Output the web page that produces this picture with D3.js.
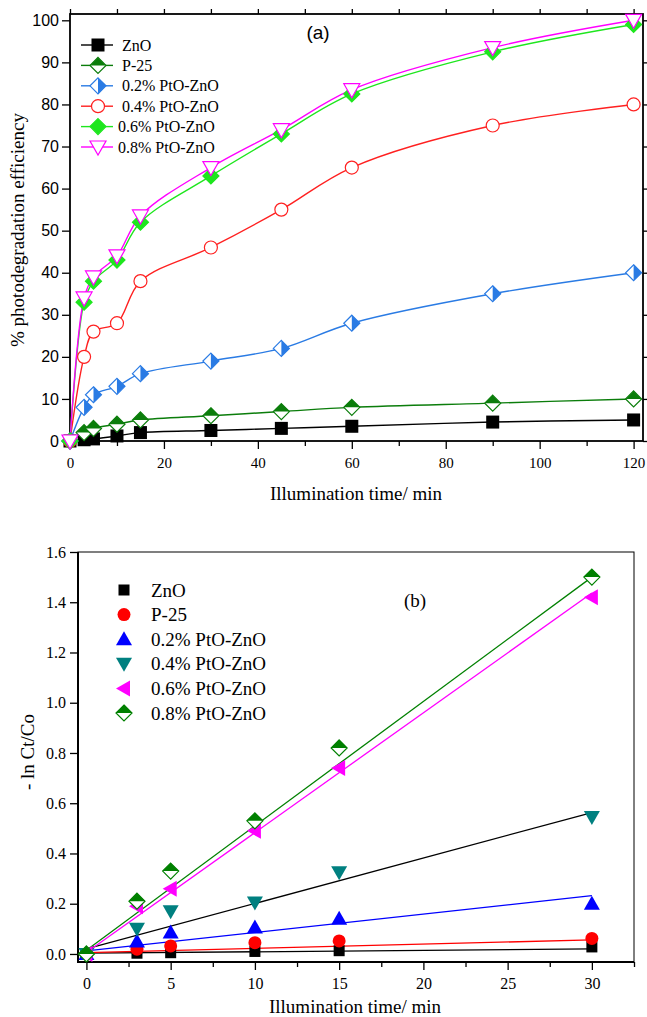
<!DOCTYPE html>
<html>
<head>
<meta charset="utf-8">
<script src="https://cdn.jsdelivr.net/npm/d3@7"></script>
<style>
body { margin: 0; background: #fff; }
svg { display: block; }
.domain { stroke: #000; }
</style>
</head>
<body>
<div id="chart"></div>
<script>
// panel (a) data: % photodegradation vs time
var timeA = [0, 3, 5, 10, 15, 30, 45, 60, 90, 120];
var znoA = [0, 0.3, 0.5, 1.2, 2, 2.5, 3, 3.5, 4.5, 5];
var p25A = [0, 2, 3, 4, 5, 6, 7, 8, 9, 10];
var pt02A = [0, 8, 11, 13, 16, 19, 22, 28, 35, 40];
var pt04A = [0, 20, 26, 28, 38, 46, 55, 65, 75, 80];
var pt06A = [0, 33, 38, 43, 52, 63, 73, 82.5, 92.5, 99];
var pt08A = [0, 34, 39, 44, 53.5, 65, 74, 83.5, 93.5, 100];
var namesA = ["ZnO", "P-25", "0.2% PtO-ZnO", "0.4% PtO-ZnO", "0.6% PtO-ZnO", "0.8% PtO-ZnO"];

// panel (b) data: -ln Ct/Co vs time, with linear fits
var timeB = [0, 3, 5, 10, 15, 30];
var znoB = [0, 0.003, 0.005, 0.01, 0.013, 0.028];
var p25B = [0, 0.019, 0.032, 0.045, 0.052, 0.062];
var pt02B = [0, 0.05, 0.085, 0.105, 0.14, 0.2];
var pt04B = [0, 0.1, 0.17, 0.205, 0.325, 0.545];
var pt06B = [0, 0.19, 0.26, 0.49, 0.74, 1.42];
var pt08B = [0, 0.21, 0.33, 0.53, 0.82, 1.5];
var fitIntercept = [0.003, 0.005, 0.012, 0.02, 0.006, 0.015];
var fitSlope = [0.00057, 0.0017, 0.00733, 0.0181, 0.0477, 0.0495];
var fitRange = [0, 30];
var namesB = ["ZnO", "P-25", "0.2% PtO-ZnO", "0.4% PtO-ZnO", "0.6% PtO-ZnO", "0.8% PtO-ZnO"];

var serif = "'Liberation Serif', 'Times New Roman', serif",
sans = "'Liberation Sans', Arial, sans-serif";

var svg = d3.select("#chart")
	.append("svg")
	.attr("width", 647)
	.attr("height", 1017);

svg.append("rect").attr("width", 647).attr("height", 1017).attr("fill", "#fff");

// draws one marker centred at 0,0 inside g
var drawMarker = function(g, kind, color) {
	var r;
	if (kind == "square") {
		g.append("rect").attr("x", -6.5).attr("y", -6.5).attr("width", 13).attr("height", 13)
			.attr("fill", color);
	} else if (kind == "squareS") {
		g.append("rect").attr("x", -5.5).attr("y", -5.5).attr("width", 11).attr("height", 11)
			.attr("fill", color);
	} else if (kind == "diamondTop" || kind == "diamondRight" || kind == "diamond") {
		r = 8;
		g.append("path").attr("d", "M0," + (-r) + "L" + r + ",0L0," + r + "L" + (-r) + ",0Z")
			.attr("fill", kind == "diamond" ? color : "#fff")
			.attr("stroke", color).attr("stroke-width", 1.2);
		if (kind == "diamondTop") {
			g.append("path").attr("d", "M" + (-r) + ",0L0," + (-r) + "L" + r + ",0Z").attr("fill", color);
		} else if (kind == "diamondRight") {
			g.append("path").attr("d", "M0," + (-r) + "L" + r + ",0L0," + r + "Z").attr("fill", color);
		}
	} else if (kind == "circleOpen") {
		g.append("circle").attr("r", 6.5).attr("fill", "#fff").attr("stroke", color).attr("stroke-width", 1.2);
	} else if (kind == "circle") {
		g.append("circle").attr("r", 6.5).attr("fill", color);
	} else if (kind == "triDownOpen") {
		g.append("path").attr("d", "M-8,-6L8,-6L0,8Z")
			.attr("fill", "#fff").attr("stroke", color).attr("stroke-width", 1.2);
	} else if (kind == "triUp") {
		g.append("path").attr("d", "M-8,6L8,6L0,-8Z").attr("fill", color);
	} else if (kind == "triDown") {
		g.append("path").attr("d", "M-8,-6L8,-6L0,8Z").attr("fill", color);
	} else if (kind == "triLeft") {
		g.append("path").attr("d", "M6,-8L6,8L-8,0Z").attr("fill", color);
	}
};

// ---------- panel (a) ----------
var seriesA = [znoA, p25A, pt02A, pt04A, pt06A, pt08A];
var styleA = [
	{ line: "#000", marker: "square", color: "#000" },
	{ line: "#0b7d0b", marker: "diamondTop", color: "#0b7d0b" },
	{ line: "#2a7be4", marker: "diamondRight", color: "#2a7be4" },
	{ line: "#ff2020", marker: "circleOpen", color: "#ff2020" },
	{ line: "#1ee61e", marker: "diamond", color: "#1ee61e" },
	{ line: "#ff00ff", marker: "triDownOpen", color: "#ff00ff" }
];

var xA = d3.scaleLinear().domain([0, 122]).range([70, 643]);
var yA = d3.scaleLinear().domain([0, 101.5]).range([441, 14]);

var gA = svg.append("g");

gA.append("g")
	.attr("transform", "translate(0,441)")
	.call(d3.axisBottom(xA).tickValues(d3.range(10, 121, 20)).tickSize(5).tickFormat(""))
	.call(function(g) { g.select(".domain").remove(); });
gA.append("g")
	.attr("transform", "translate(0,441)")
	.call(d3.axisBottom(xA).tickValues(d3.range(0, 121, 20)).tickSize(8).tickSizeOuter(0).tickPadding(8))
	.call(function(g) {
		g.select(".domain").remove();
		g.selectAll("text").attr("font-family", serif).attr("font-size", 15).attr("fill", "#000");
	});
gA.append("g")
	.attr("transform", "translate(70,0)")
	.call(d3.axisLeft(yA).tickValues(d3.range(0, 101, 10)).tickSize(8).tickPadding(3))
	.call(function(g) {
		g.select(".domain").remove();
		g.selectAll("text").attr("font-family", sans).attr("font-size", 16).attr("fill", "#000");
	});
gA.append("g")
	.attr("transform", "translate(643,0)")
	.call(d3.axisRight(yA).tickValues(d3.range(0, 101, 10)).tickSize(5).tickFormat(""))
	.call(function(g) { g.select(".domain").remove(); });
gA.append("g")
	.attr("transform", "translate(0,14)")
	.call(d3.axisTop(xA).tickValues(d3.range(0, 121, 10)).tickSize(5).tickFormat(""))
	.call(function(g) { g.select(".domain").remove(); });
gA.selectAll(".tick line").attr("stroke", "#000").attr("stroke-width", 1.3);

gA.append("rect")
	.attr("x", 70).attr("y", 14).attr("width", 573).attr("height", 427)
	.attr("fill", "none").attr("stroke", "#000").attr("stroke-width", 1.8);

var curveA = d3.line()
	.x(function(d, i) { return xA(timeA[i]); })
	.y(function(d) { return yA(d); })
	.curve(d3.curveCatmullRom.alpha(0.5));

seriesA.forEach(function(s, k) {
	gA.append("path")
		.attr("d", curveA(s))
		.attr("fill", "none")
		.attr("stroke", styleA[k].line)
		.attr("stroke-width", 1.4);
});
seriesA.forEach(function(s, k) {
	s.forEach(function(v, i) {
		var m = gA.append("g").attr("transform", "translate(" + xA(timeA[i]) + "," + yA(v) + ")");
		drawMarker(m, styleA[k].marker, styleA[k].color);
	});
});

// legend (a)
namesA.forEach(function(n, k) {
	var yy = 45 + k * 20.4;
	var lg = gA.append("g");
	lg.append("line").attr("x1", 81).attr("x2", 113).attr("y1", yy).attr("y2", yy)
		.attr("stroke", styleA[k].line).attr("stroke-width", 1.4);
	drawMarker(lg.append("g").attr("transform", "translate(98," + yy + ")"), styleA[k].marker, styleA[k].color);
	lg.append("text").attr("x", k < 4 ? 122 : 118).attr("y", yy + 5.5)
		.attr("font-family", serif).attr("font-size", 16).text(n);
});

gA.append("text").attr("x", 318).attr("y", 39).attr("text-anchor", "middle")
	.attr("font-family", sans).attr("font-size", 19).text("(a)");
gA.append("text").attr("x", 356).attr("y", 500).attr("text-anchor", "middle")
	.attr("font-family", serif).attr("font-size", 19).text("Illumination time/ min");
gA.append("text").attr("transform", "translate(24,230) rotate(-90)").attr("text-anchor", "middle")
	.attr("font-family", serif).attr("font-size", 19).text("% photodegradation efficiency");

// ---------- panel (b) ----------
var seriesB = [znoB, p25B, pt02B, pt04B, pt06B, pt08B];
var styleB = [
	{ line: "#000", marker: "squareS", color: "#000" },
	{ line: "#ff0000", marker: "circle", color: "#ff0000" },
	{ line: "#0000ff", marker: "triUp", color: "#0000ff" },
	{ line: "#000", marker: "triDown", color: "#008080" },
	{ line: "#ff00ff", marker: "triLeft", color: "#ff00ff" },
	{ line: "#008000", marker: "diamondTop", color: "#008000" }
];

var xB = d3.scaleLinear().domain([-0.5, 32.5]).range([78, 634]);
var yB = d3.scaleLinear().domain([-0.032, 1.6]).range([962, 552]);

var gB = svg.append("g");

gB.append("g")
	.attr("transform", "translate(0,962)")
	.call(d3.axisBottom(xB).tickValues(d3.range(2.5, 33, 5)).tickSize(5).tickFormat(""))
	.call(function(g) { g.select(".domain").remove(); });
gB.append("g")
	.attr("transform", "translate(0,962)")
	.call(d3.axisBottom(xB).tickValues(d3.range(0, 31, 5)).tickSize(8).tickPadding(8))
	.call(function(g) {
		g.select(".domain").remove();
		g.selectAll("text").attr("font-family", serif).attr("font-size", 16).attr("fill", "#000");
	});
gB.append("g")
	.attr("transform", "translate(78,0)")
	.call(d3.axisLeft(yB).tickValues(d3.range(0, 1.61, 0.2)).tickSize(8).tickPadding(4).tickFormat(d3.format(".1f")))
	.call(function(g) {
		g.select(".domain").remove();
		g.selectAll("text").attr("font-family", serif).attr("font-size", 16).attr("fill", "#000");
	});
gB.selectAll(".tick line").attr("stroke", "#000").attr("stroke-width", 1.3);

gB.append("rect")
	.attr("x", 78).attr("y", 552).attr("width", 556).attr("height", 410)
	.attr("fill", "none").attr("stroke", "#000").attr("stroke-width", 1);
gB.append("path")
	.attr("d", "M78,552V962H634")
	.attr("fill", "none").attr("stroke", "#000").attr("stroke-width", 2);

var fitLine = d3.line()
	.x(function(d) { return xB(d[0]); })
	.y(function(d) { return yB(d[1]); });

fitIntercept.forEach(function(b, k) {
	var pts = fitRange.map(function(t) { return [t, b + fitSlope[k] * t]; });
	gB.append("path")
		.attr("d", fitLine(pts))
		.attr("fill", "none")
		.attr("stroke", styleB[k].line)
		.attr("stroke-width", 1.3);
});
seriesB.forEach(function(s, k) {
	s.forEach(function(v, i) {
		var m = gB.append("g").attr("transform", "translate(" + xB(timeB[i]) + "," + yB(v) + ")");
		drawMarker(m, styleB[k].marker, styleB[k].color);
	});
});

// legend (b)
namesB.forEach(function(n, k) {
	var yy = 590 + k * 24.6;
	var lg = gB.append("g");
	drawMarker(lg.append("g").attr("transform", "translate(124," + yy + ")"), styleB[k].marker, styleB[k].color);
	lg.append("text").attr("x", 151).attr("y", yy + 6.5)
		.attr("font-family", serif).attr("font-size", 19).text(n);
});

gB.append("text").attr("x", 415).attr("y", 607).attr("text-anchor", "middle")
	.attr("font-family", serif).attr("font-size", 19).text("(b)");
gB.append("text").attr("x", 355).attr("y", 1013).attr("text-anchor", "middle")
	.attr("font-family", serif).attr("font-size", 19).text("Illumination time/ min");
gB.append("text").attr("transform", "translate(34,752) rotate(-90)").attr("text-anchor", "middle")
	.attr("font-family", serif).attr("font-size", 19).text("- ln Ct/Co");
</script>
</body>
</html>
